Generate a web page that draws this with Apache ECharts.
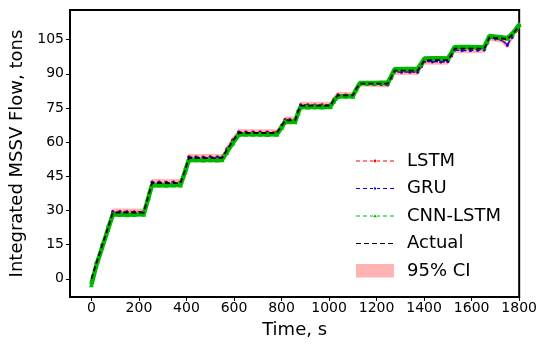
<!DOCTYPE html>
<html>
<head>
<meta charset="utf-8">
<script src="https://cdn.jsdelivr.net/npm/echarts@6/dist/echarts.min.js"></script>
<style>html,body{margin:0;padding:0;background:#fff;}#c{width:540px;height:345px;}</style>
</head>
<body>
<div id="c"></div>
<script>
const times = [0,20,45,70,90,120,150,180,220,240,255,285,315,345,375,395,410,440,470,500,530,550,570,595,620,650,680,710,740,780,800,815,835,857,870,880,910,940,970,1005,1020,1037,1070,1100,1115,1130,1160,1190,1220,1247,1262,1276,1305,1340,1373,1388,1402,1435,1470,1500,1515,1528,1560,1595,1625,1653,1665,1675,1700,1725,1750,1770,1785,1800];
const actual = [0,6.5,14.5,22.5,29,29,29,29,29,36.5,42,42,42,42,42,48,53,53,53,53,53,53,56.5,60.5,64,64,64,64,64,64,67,69.5,69.5,69.5,73.5,76,76,76,76,76,78.5,80.5,80.5,80.5,83.5,85.7,85.7,85.7,85.7,85.7,88.5,91.4,91.4,91.4,91.4,93.8,96,96,96,96,98.5,101,101,101,101,101,103.5,106,105.8,105.5,105.2,107,109,111];
const lstm = [-1.2,7.2,15.2,23.1,29.6,29.6,29.6,29.5,29.6,37.2,42.6,42.6,42.5,42.6,42.6,48.7,53.7,53.6,53.6,53.7,53.6,53.6,57.2,61.1,64.6,64.5,64.5,64.5,64.5,64.5,67.5,70.0,70.0,70.0,74.0,76.5,76.5,76.4,76.5,76.4,78.9,80.9,80.8,80.8,83.6,85.6,85.5,85.4,85.3,85.2,87.9,90.8,90.7,90.7,90.7,93.1,95.3,95.2,95.2,95.3,97.8,100.3,100.2,100.2,100.3,100.4,103.3,105.7,105.3,104.8,102.4,105.8,108.6,111.5];
const gru = [-1.0,6.8,14.8,22.8,29.3,29.3,29.2,29.2,29.3,36.8,42.3,42.3,42.2,42.3,42.2,48.4,53.3,53.3,53.2,53.3,53.3,53.2,56.8,60.8,64.3,64.2,64.2,64.2,64.2,64.2,67.2,69.7,69.7,69.7,73.7,76.2,76.2,76.1,76.1,76.1,78.6,80.6,80.6,80.5,83.4,85.5,85.4,85.3,85.3,85.2,88.0,90.9,90.8,90.9,90.8,93.2,95.4,95.4,95.3,95.4,97.9,100.4,100.3,100.3,100.4,100.5,103.4,105.8,105.4,105.0,102.9,106.2,108.8,111.3];
const cnnLstm = [-2.6,5.6,13.7,21.7,28.2,28.2,28.1,28.2,28.3,35.6,41.1,41.2,41.1,41.2,41.2,47.2,52.2,52.3,52.2,52.3,52.2,52.3,55.6,59.6,63.3,63.4,63.4,63.4,63.3,63.4,66.4,68.9,68.9,68.9,72.9,75.4,75.4,75.5,75.4,75.5,78.0,80.0,80.1,80.1,83.3,85.9,86.0,86.0,86.1,86.1,89.0,92.0,92.1,92.1,92.1,94.5,96.7,96.8,96.8,96.7,99.2,101.7,101.8,101.8,101.7,101.8,104.3,106.6,106.3,106.0,105.6,107.5,109.4,111.6];
const ciLow = [-2.4,6.0,14.0,21.9,28.4,28.4,28.4,28.3,28.4,36.0,41.4,41.4,41.3,41.4,41.4,47.5,52.5,52.4,52.4,52.5,52.4,52.4,56.0,59.9,63.4,63.3,63.3,63.3,63.3,63.3,66.3,68.8,68.8,68.8,72.8,75.3,75.3,75.2,75.3,75.2,77.7,79.7,79.6,79.6,82.4,84.4,84.3,84.2,84.1,84.0,86.7,89.6,89.5,89.5,89.5,91.9,94.1,94.0,94.0,94.1,96.6,99.1,99.0,99.0,99.1,99.2,102.1,104.5,104.1,103.6,101.2,104.6,107.4,110.3];
const ciHigh = [0.0,8.4,16.4,24.3,30.8,30.8,30.8,30.7,30.8,38.4,43.8,43.8,43.7,43.8,43.8,49.9,54.9,54.8,54.8,54.9,54.8,54.8,58.4,62.3,65.8,65.7,65.7,65.7,65.7,65.7,68.7,71.2,71.2,71.2,75.2,77.7,77.7,77.6,77.7,77.6,80.1,82.1,82.0,82.0,84.8,86.8,86.7,86.6,86.5,86.4,89.1,92.0,91.9,91.9,91.9,94.3,96.5,96.4,96.4,96.5,99.0,101.5,101.4,101.4,101.5,101.6,104.5,106.9,106.5,106.0,103.6,107.0,109.8,112.7];
const xTicks = [0,200,400,600,800,1000,1200,1400,1600,1800];
const yTicks = [0,15,30,45,60,75,90,105];

const pair = arr => times.map((t, i) => [t, arr[i]]);
const FONT = 'DejaVu Sans';
const RED = '#ff0000', BLUE = '#0000ff', GREEN = '#00b800', PINK = '#ffb3b3';

// legend icon paths (38 x 16 box, anchored by tiny corner marks so nothing is stretched)
const BOX = 'M0,0 L0.01,0 L0.01,0.01 Z M37.99,15.99 L38,15.99 L38,16 Z ';
const DASHES = 'M0,7.5 L4,7.5 L4,8.6 L0,8.6 Z M7,7.5 L11,7.5 L11,8.6 L7,8.6 Z M14,7.5 L17,7.5 L17,8.6 L14,8.6 Z M21,7.5 L24,7.5 L24,8.6 L21,8.6 Z M27,7.5 L31,7.5 L31,8.6 L27,8.6 Z M34,7.5 L38,7.5 L38,8.6 L34,8.6 Z ';
const iconDot = 'path://' + BOX + DASHES + 'M17.6,8 A1.4,1.4 0 1 1 20.4,8 A1.4,1.4 0 1 1 17.6,8 Z';
const iconSq = 'path://' + BOX + DASHES + 'M18,7 L20,7 L20,9 L18,9 Z';
const iconTri = 'path://' + BOX + DASHES + 'M19,6.2 L20.8,9.2 L17.2,9.2 Z';
const iconDash = 'path://' + BOX + 'M0,7.4 L5,7.4 L5,8.6 L0,8.6 Z M8,7.4 L13,7.4 L13,8.6 L8,8.6 Z M16,7.4 L21,7.4 L21,8.6 L16,8.6 Z M24,7.4 L29,7.4 L29,8.6 L24,8.6 Z M32,7.4 L37,7.4 L37,8.6 L32,8.6 Z';
const iconRect = 'path://' + BOX + 'M0,1 L38,1 L38,14.5 L0,14.5 Z';

const chart = echarts.init(document.getElementById('c'), null, {renderer: 'canvas'});
chart.setOption({
  animation: false,
  backgroundColor: '#fff',
  grid: {left: 69, right: 20, top: 10, bottom: 48, show: true, borderColor: '#000', borderWidth: 2, backgroundColor: 'transparent'},
  xAxis: {
    type: 'value', min: -90, max: 1800,
    name: 'Time, s', nameLocation: 'middle', nameGap: 24,
    nameTextStyle: {fontFamily: FONT, fontSize: 18, color: '#000'},
    axisLine: {show: true, onZero: false, lineStyle: {color: '#000', width: 2}},
    axisTick: {show: true, customValues: xTicks, length: 4, inside: false, lineStyle: {color: '#000', width: 1}},
    axisLabel: {customValues: xTicks, formatter: v => String(v), fontFamily: FONT, fontSize: 14, color: '#000', margin: 4},
    splitLine: {show: false}
  },
  yAxis: {
    type: 'value', min: -8, max: 118,
    name: 'Integrated MSSV Flow, tons', nameLocation: 'middle', nameGap: 44,
    nameTextStyle: {fontFamily: FONT, fontSize: 18, color: '#000'},
    axisLine: {show: true, onZero: false, lineStyle: {color: '#000', width: 2}},
    axisTick: {show: true, customValues: yTicks, length: 4, lineStyle: {color: '#000', width: 1}},
    axisLabel: {customValues: yTicks, formatter: v => String(v), fontFamily: FONT, fontSize: 14, color: '#000', margin: 6},
    splitLine: {show: false}
  },
  legend: {
    orient: 'vertical', left: 351, top: 147, itemGap: 9.5, itemWidth: 38, itemHeight: 16,
    textStyle: {fontFamily: FONT, fontSize: 18, color: '#000', padding: [0,0,0,8]},
    data: [
      {name: 'LSTM', icon: iconDot, itemStyle: {color: RED}},
      {name: 'GRU', icon: iconSq, itemStyle: {color: BLUE}},
      {name: 'CNN-LSTM', icon: iconTri, itemStyle: {color: GREEN}},
      {name: 'Actual', icon: iconDash, itemStyle: {color: '#000'}},
      {name: '95% CI', icon: iconRect, itemStyle: {color: PINK}}
    ]
  },
  series: [
    {name: '95% CI', type: 'custom', silent: true, z: 1,
      data: times.map((t, i) => [t, ciLow[i], ciHigh[i]]),
      itemStyle: {color: PINK},
      renderItem: function (params, api) {
        if (params.dataIndex !== 0) return null;
        const up = [], lo = [];
        for (let i = 0; i < times.length; i++) {
          up.push(api.coord([times[i], ciHigh[i]]));
          lo.unshift(api.coord([times[i], ciLow[i]]));
        }
        return {type: 'polygon', shape: {points: up.concat(lo)}, style: {fill: PINK}};
      }
    },
    {name: 'LSTM', type: 'line', data: pair(lstm), symbol: 'circle', symbolSize: 3, showSymbol: true,
      lineStyle: {color: RED, width: 1.2, type: [4, 3]}, itemStyle: {color: RED}, z: 2},
    {name: 'GRU', type: 'line', data: pair(gru), symbol: 'circle', symbolSize: 3, showSymbol: true,
      lineStyle: {color: BLUE, width: 1.2, type: [4, 3]}, itemStyle: {color: BLUE}, z: 3},
    {name: 'CNN-LSTM band', type: 'line', data: pair(cnnLstm), symbol: 'none',
      lineStyle: {color: GREEN, width: 4.5}, z: 4, silent: true},
    {name: 'CNN-LSTM', type: 'line', data: pair(cnnLstm), symbol: 'triangle', symbolSize: 5, showSymbol: true,
      lineStyle: {color: GREEN, width: 1.2, type: [4, 3]}, itemStyle: {color: GREEN}, z: 5},
    {name: 'Actual', type: 'line', data: pair(actual), symbol: 'none',
      lineStyle: {color: '#000', width: 1.8, type: [5, 3]}, itemStyle: {color: '#000'}, z: 6}
  ]
});
</script>
</body>
</html>
